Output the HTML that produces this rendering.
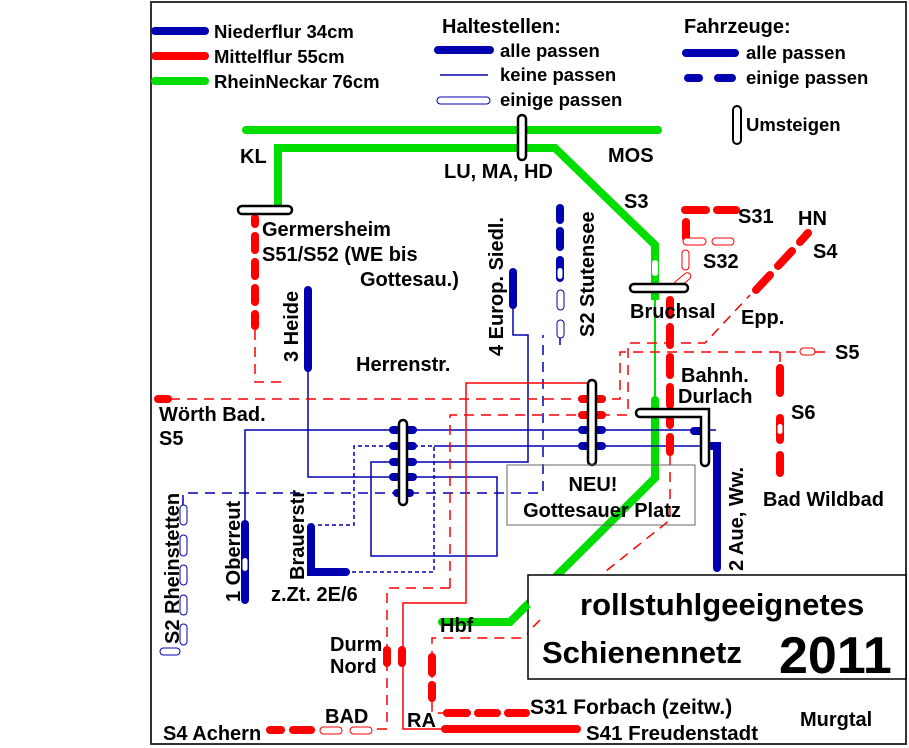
<!DOCTYPE html>
<html><head><meta charset="utf-8"><style>
html,body{margin:0;padding:0;background:#fff}
svg{display:block}
text{font-family:"Liberation Sans",sans-serif;font-weight:bold;fill:#000}
</style></head><body>
<svg width="909" height="748" viewBox="0 0 909 748" xmlns="http://www.w3.org/2000/svg">
<rect x="151" y="2" width="755" height="742" fill="#fff" stroke="#333" stroke-width="2"/>

<!-- Legend -->
<g stroke-linecap="round" fill="none">
<line x1="155" y1="31" x2="205" y2="31" stroke="#0000b0" stroke-width="8"/>
<line x1="155" y1="56" x2="205" y2="56" stroke="#ff0000" stroke-width="8"/>
<line x1="155" y1="81" x2="205" y2="81" stroke="#00dd00" stroke-width="8"/>
<line x1="438" y1="50" x2="490" y2="50" stroke="#0000b0" stroke-width="8"/>
<line x1="440" y1="75" x2="488" y2="75" stroke="#0000b0" stroke-width="1.5" stroke-linecap="butt"/>
<rect x="437" y="97" width="53" height="7" rx="3.5" stroke="#0000b0" stroke-width="1"/>
<line x1="686" y1="53" x2="735" y2="53" stroke="#0000b0" stroke-width="8"/>
<line x1="688" y1="78" x2="699" y2="78" stroke="#0000b0" stroke-width="8"/>
<line x1="718" y1="78" x2="732" y2="78" stroke="#0000b0" stroke-width="8"/>
<rect x="733" y="106" width="8" height="38" rx="4" fill="#fff" stroke="#000" stroke-width="2"/>
</g>
<g font-size="18.5">
<text x="214" y="38">Niederflur 34cm</text>
<text x="214" y="63">Mittelflur 55cm</text>
<text x="214" y="88">RheinNeckar 76cm</text>
<text x="442" y="33" font-size="20">Haltestellen:</text>
<text x="500" y="57">alle passen</text>
<text x="500" y="81">keine passen</text>
<text x="500" y="106">einige passen</text>
<text x="684" y="33" font-size="20">Fahrzeuge:</text>
<text x="746" y="59">alle passen</text>
<text x="746" y="84">einige passen</text>
<text x="746" y="131">Umsteigen</text>
</g>

<!-- Green lines -->
<g fill="none" stroke="#00dd00" stroke-linecap="round" stroke-linejoin="miter">
<line x1="246" y1="130" x2="658" y2="130" stroke-width="8"/>
<polyline points="278,205 278,148 555,148 655,245 655,300" stroke-width="8" stroke-linecap="butt"/>
<line x1="655" y1="300" x2="655" y2="400" stroke-width="2"/>
<polyline points="655,400 655,478 510,622 442,622" stroke-width="8"/>
</g>
<rect x="652" y="260" width="6" height="16" rx="3" fill="#fff"/>

<!-- Blue thin lines -->
<g fill="none" stroke="#0000b0" stroke-width="1.5">
<polyline points="513,307 513,335 528,335 528,462 371,462 371,556 497,556 497,477 308,477 308,368"/>
<polyline points="245,522 245,430 716,430"/>
<line x1="434" y1="446" x2="705" y2="446"/>
</g>
<g fill="none" stroke="#0000b0" stroke-width="1.5" stroke-dasharray="4,3">
<polyline points="318,525 354,525 354,446 434,446 434,572 348,572"/>
</g>
<g fill="none" stroke="#0000b0" stroke-width="1.5" stroke-dasharray="10,7">
<polyline points="183,505 183,493 543,493 543,335"/>
<line x1="560" y1="337" x2="560" y2="345"/>
</g>

<!-- Blue thick -->
<g fill="none" stroke="#0000b0" stroke-width="8" stroke-linecap="round">
<line x1="308" y1="290" x2="308" y2="368"/>
<line x1="513" y1="272" x2="513" y2="305"/>
<line x1="245" y1="524" x2="245" y2="600"/>
<polyline points="311,527 311,572 346,572" stroke-linecap="round" stroke-linejoin="miter"/>
<polyline points="694,431 706,431" />
<polyline points="706,446 717,446 717,568" stroke-linecap="round" stroke-linejoin="miter"/>
<line x1="560" y1="208" x2="560" y2="220"/>
<line x1="560" y1="231" x2="560" y2="247"/>
<line x1="560" y1="260" x2="560" y2="278"/>
<line x1="393" y1="430" x2="413" y2="430"/>
<line x1="393" y1="446" x2="413" y2="446"/>
<line x1="393" y1="462" x2="413" y2="462"/>
<line x1="393" y1="477" x2="413" y2="477"/>
<line x1="397" y1="493" x2="410" y2="493"/>
<line x1="582" y1="430" x2="602" y2="430"/>
<line x1="582" y1="446" x2="602" y2="446"/>
</g>
<rect x="242.5" y="558" width="5" height="13" rx="2.5" fill="#fff"/>
<rect x="557.5" y="268" width="5" height="11" rx="2.5" fill="#fff"/>
<g fill="#fff" stroke="#0000b0" stroke-width="1">
<rect x="557" y="290" width="7" height="20" rx="3.5"/>
<rect x="557" y="320" width="7" height="18" rx="3.5"/>
<rect x="180" y="505" width="7" height="20" rx="3.5"/>
<rect x="180" y="535" width="7" height="21" rx="3.5"/>
<rect x="180" y="565" width="7" height="20" rx="3.5"/>
<rect x="180" y="595" width="7" height="20" rx="3.5"/>
<rect x="180" y="624" width="7" height="21" rx="3.5"/>
<rect x="160" y="648" width="20" height="7" rx="3.5"/>
</g>

<!-- Red thin solid -->
<g fill="none" stroke="#ff0000" stroke-width="1.5">
<polyline points="592,383 466,383 466,603 403,603 403,729 445,729"/>
</g>
<!-- Red thin dashed -->
<g fill="none" stroke="#ff0000" stroke-width="1.5" stroke-dasharray="10,7">
<polyline points="255,330 255,382 285,382"/>
<polyline points="170,399 620,399 620,352 800,352"/>
<line x1="815" y1="352" x2="828" y2="352"/>
<polyline points="450,588 450,415 628,415 628,343 705,343 750,295"/>
<polyline points="377,729 387,729 387,588 450,588"/>
<polyline points="670,455 670,520 522,638 432,638 432,713 445,713"/>
<line x1="780" y1="352" x2="780" y2="365"/>
</g>
<!-- Red thick -->
<g fill="none" stroke="#ff0000" stroke-width="8" stroke-linecap="round">
<line x1="158" y1="399" x2="168" y2="399"/>
<line x1="255" y1="218" x2="255" y2="224"/>
<line x1="255" y1="236" x2="255" y2="250"/>
<line x1="255" y1="262" x2="255" y2="276"/>
<line x1="255" y1="288" x2="255" y2="302"/>
<line x1="255" y1="314" x2="255" y2="326"/>
<line x1="685" y1="210" x2="706" y2="210"/>
<line x1="717" y1="210" x2="736" y2="210"/>
<line x1="686" y1="222" x2="686" y2="238"/>
<line x1="670" y1="300" x2="670" y2="315"/>
<line x1="670" y1="327" x2="670" y2="345"/>
<line x1="670" y1="357" x2="670" y2="375"/>
<line x1="670" y1="387" x2="670" y2="405"/>
<line x1="670" y1="417" x2="670" y2="425"/>
<line x1="670" y1="437" x2="670" y2="452"/>
<line x1="756" y1="290" x2="770" y2="275"/>
<line x1="778" y1="266" x2="792" y2="251"/>
<line x1="800" y1="242" x2="808" y2="233"/>
<line x1="780" y1="368" x2="780" y2="393"/>
<line x1="780" y1="418" x2="780" y2="440"/>
<line x1="780" y1="455" x2="780" y2="473"/>
<line x1="582" y1="399" x2="602" y2="399"/>
<line x1="582" y1="415" x2="602" y2="415"/>
<line x1="387" y1="650" x2="387" y2="663"/>
<line x1="402" y1="650" x2="402" y2="663"/>
<line x1="432" y1="657" x2="432" y2="673"/>
<line x1="432" y1="685" x2="432" y2="698"/>
<line x1="447" y1="713" x2="467" y2="713"/>
<line x1="478" y1="713" x2="497" y2="713"/>
<line x1="508" y1="713" x2="526" y2="713"/>
<line x1="445" y1="729" x2="577" y2="729"/>
<line x1="270" y1="730" x2="281" y2="730"/>
<line x1="293" y1="730" x2="311" y2="730"/>
</g>
<rect x="777.5" y="424" width="5" height="10" rx="2.5" fill="#fff"/>
<g fill="#fff" stroke="#ff0000" stroke-width="1">
<rect x="683" y="238" width="23" height="7" rx="3.5"/>
<rect x="712" y="238" width="22" height="7" rx="3.5"/>
<rect x="682" y="250" width="7" height="20" rx="3.5"/>
<rect x="672" y="277" width="20" height="7" rx="3.5" transform="rotate(-40 682 280)"/>
<rect x="800" y="348" width="15" height="7" rx="3.5"/>
<rect x="320" y="727" width="22" height="7" rx="3.5"/>
<rect x="350" y="727" width="22" height="7" rx="3.5"/>
</g>

<!-- Transfer pills -->
<g fill="#fff" stroke="#000" stroke-width="2.5">
<rect x="518" y="115" width="8" height="45" rx="4"/>
<rect x="238" y="206" width="54" height="8" rx="4"/>
<rect x="630" y="284" width="58" height="8" rx="4"/>
<rect x="399" y="420" width="8" height="85" rx="4"/>
<rect x="588" y="380" width="8" height="85" rx="4"/>
</g>
<path d="M640,409 H709 V462 A4,4 0 0 1 701,462 V417 H640 A4,4 0 0 1 640,409 Z" fill="#fff" stroke="#000" stroke-width="2.5"/>

<!-- Boxes -->
<rect x="507" y="465" width="188" height="60" fill="none" stroke="#666" stroke-width="1"/>
<rect x="528" y="575" width="378" height="104" fill="#fff" stroke="#000" stroke-width="1.5"/>
<g fill="none" stroke="#ff0000" stroke-width="1.5" stroke-dasharray="10,7">
<line x1="540" y1="620" x2="528" y2="632"/>
</g>
<g fill="none" stroke="#00dd00" stroke-width="8"><line x1="528" y1="604" x2="520" y2="612"/></g>

<!-- Labels -->
<g font-size="20">
<text x="240" y="163">KL</text>
<text x="444" y="178">LU, MA, HD</text>
<text x="608" y="162">MOS</text>
<text x="624" y="208">S3</text>
<text x="262" y="236">Germersheim</text>
<text x="262" y="261">S51/S52 (WE bis</text>
<text x="360" y="286">Gottesau.)</text>
<text x="356" y="371">Herrenstr.</text>
<text x="738" y="223">S31</text>
<text x="798" y="225">HN</text>
<text x="813" y="258">S4</text>
<text x="703" y="268">S32</text>
<text x="630" y="318">Bruchsal</text>
<text x="741" y="324">Epp.</text>
<text x="835" y="359">S5</text>
<text x="681" y="382">Bahnh.</text>
<text x="678" y="403">Durlach</text>
<text x="791" y="419">S6</text>
<text x="159" y="421">Wörth Bad.</text>
<text x="159" y="445">S5</text>
<text x="593" y="491" text-anchor="middle">NEU!</text>
<text x="602" y="517" text-anchor="middle">Gottesauer Platz</text>
<text x="763" y="506">Bad Wildbad</text>
<text x="271" y="601">z.Zt. 2E/6</text>
<text x="440" y="632">Hbf</text>
<text x="330" y="651">Durm</text>
<text x="330" y="673">Nord</text>
<text x="530" y="714" font-size="21">S31 Forbach (zeitw.)</text>
<text x="586" y="740" font-size="20.5">S41 Freudenstadt</text>
<text x="800" y="726">Murgtal</text>
<text x="407" y="727">RA</text>
<text x="325" y="723">BAD</text>
<text x="163" y="740">S4 Achern</text>
<text transform="translate(298,362) rotate(-90)">3 Heide</text>
<text transform="translate(503,356) rotate(-90)">4 Europ. Siedl.</text>
<text transform="translate(594,337) rotate(-90)">S2 Stutensee</text>
<text transform="translate(743,571) rotate(-90)">2 Aue, Ww.</text>
<text transform="translate(240,602) rotate(-90)">1 Oberreut</text>
<text transform="translate(304,580) rotate(-90)">Brauerstr</text>
<text transform="translate(179,644) rotate(-90)">S2 Rheinstetten</text>
</g>
<text x="580" y="615" font-size="31">rollstuhlgeeignetes</text>
<text x="542" y="663" font-size="31">Schienennetz</text>
<text x="779" y="673" font-size="52">2011</text>
</svg>
</body></html>
